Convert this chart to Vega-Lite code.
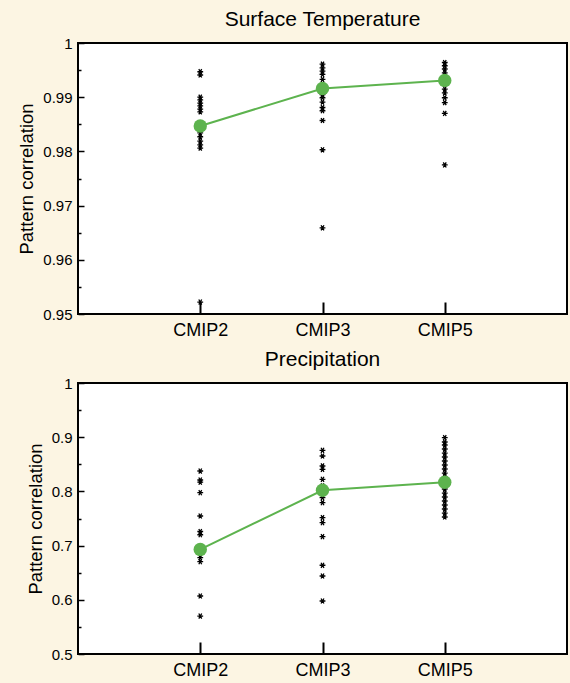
{
  "$schema": "https://vega.github.io/schema/vega-lite/v6.json",
  "background": "#FCF5E3",
  "padding": {"left": 16, "top": 8, "right": 2, "bottom": 5},
  "bounds": "flush",
  "spacing": 69,
  "datasets": {
    "st": [
      {"x": 1, "v": 0.9947}, {"x": 1, "v": 0.9941}, {"x": 1, "v": 0.9900}, {"x": 1, "v": 0.9895}, {"x": 1, "v": 0.9889},
      {"x": 1, "v": 0.9884}, {"x": 1, "v": 0.9878}, {"x": 1, "v": 0.9873}, {"x": 1, "v": 0.9841}, {"x": 1, "v": 0.9834},
      {"x": 1, "v": 0.9827}, {"x": 1, "v": 0.9819}, {"x": 1, "v": 0.9812}, {"x": 1, "v": 0.9806}, {"x": 1, "v": 0.9522},
      {"x": 2, "v": 0.9961}, {"x": 2, "v": 0.9954}, {"x": 2, "v": 0.9948}, {"x": 2, "v": 0.9942}, {"x": 2, "v": 0.9933},
      {"x": 2, "v": 0.9924}, {"x": 2, "v": 0.9911}, {"x": 2, "v": 0.9905}, {"x": 2, "v": 0.9899}, {"x": 2, "v": 0.9891},
      {"x": 2, "v": 0.9881}, {"x": 2, "v": 0.9875}, {"x": 2, "v": 0.9857}, {"x": 2, "v": 0.9803}, {"x": 2, "v": 0.9659},
      {"x": 3, "v": 0.9964}, {"x": 3, "v": 0.9958}, {"x": 3, "v": 0.9952}, {"x": 3, "v": 0.9945}, {"x": 3, "v": 0.9939},
      {"x": 3, "v": 0.9924}, {"x": 3, "v": 0.9915}, {"x": 3, "v": 0.9908}, {"x": 3, "v": 0.9899}, {"x": 3, "v": 0.9890},
      {"x": 3, "v": 0.9870}, {"x": 3, "v": 0.9775}
    ],
    "stm": [{"x": 1, "v": 0.9847}, {"x": 2, "v": 0.9916}, {"x": 3, "v": 0.9931}],
    "pr": [
      {"x": 1, "v": 0.8376}, {"x": 1, "v": 0.821}, {"x": 1, "v": 0.817}, {"x": 1, "v": 0.7976}, {"x": 1, "v": 0.7546},
      {"x": 1, "v": 0.726}, {"x": 1, "v": 0.720}, {"x": 1, "v": 0.6777}, {"x": 1, "v": 0.6703}, {"x": 1, "v": 0.607}, {"x": 1, "v": 0.570},
      {"x": 2, "v": 0.8758}, {"x": 2, "v": 0.8653}, {"x": 2, "v": 0.8469}, {"x": 2, "v": 0.8408}, {"x": 2, "v": 0.8223},
      {"x": 2, "v": 0.8100}, {"x": 2, "v": 0.7950}, {"x": 2, "v": 0.7884}, {"x": 2, "v": 0.7792}, {"x": 2, "v": 0.7515},
      {"x": 2, "v": 0.7423}, {"x": 2, "v": 0.7164}, {"x": 2, "v": 0.6637}, {"x": 2, "v": 0.6439}, {"x": 2, "v": 0.5978},
      {"x": 3, "v": 0.8991}, {"x": 3, "v": 0.8911}, {"x": 3, "v": 0.8856}, {"x": 3, "v": 0.8782}, {"x": 3, "v": 0.8708},
      {"x": 3, "v": 0.8635}, {"x": 3, "v": 0.8561}, {"x": 3, "v": 0.8487}, {"x": 3, "v": 0.8413}, {"x": 3, "v": 0.8339},
      {"x": 3, "v": 0.8266}, {"x": 3, "v": 0.8118}, {"x": 3, "v": 0.8044}, {"x": 3, "v": 0.7970}, {"x": 3, "v": 0.7897},
      {"x": 3, "v": 0.7823}, {"x": 3, "v": 0.7749}, {"x": 3, "v": 0.7675}, {"x": 3, "v": 0.7601}, {"x": 3, "v": 0.7528}
    ],
    "prm": [{"x": 1, "v": 0.693}, {"x": 2, "v": 0.802}, {"x": 3, "v": 0.817}]
  },
  "vconcat": [
    {
      "title": {"text": "Surface Temperature"},
      "width": 489,
      "height": 271,
      "encoding": {
        "x": {"field": "x", "type": "quantitative", "scale": {"domain": [0, 4]},
          "axis": {"values": [1, 2, 3], "labelExpr": "datum.value == 1 ? 'CMIP2' : datum.value == 2 ? 'CMIP3' : 'CMIP5'"}},
        "y": {"field": "v", "type": "quantitative", "scale": {"domain": [0.95, 1], "nice": false, "zero": false},
          "axis": {"title": "Pattern correlation",
            "values": [0.95, 0.955, 0.96, 0.965, 0.97, 0.975, 0.98, 0.985, 0.99, 0.995, 1],
            "labelExpr": "round(datum.value * 1000) % 10 == 0 ? format(datum.value, '~g') : ''",
            "tickSize": {"condition": {"test": "round(datum.value * 1000) % 10 == 0", "value": -6}, "value": -3}}}
      },
      "layer": [
        {"data": {"name": "st"}, "mark": {"type": "point", "shape": "M-1,0L1,0M-0.5,-0.87L0.5,0.87M-0.5,0.87L0.5,-0.87", "stroke": "black", "strokeWidth": 1.3, "size": 34, "filled": false, "opacity": 1}},
        {"data": {"name": "stm"}, "mark": {"type": "line", "color": "#5DB34E", "strokeWidth": 2}},
        {"data": {"name": "stm"}, "mark": {"type": "circle", "color": "#5DB34E", "size": 180, "opacity": 1}}
      ]
    },
    {
      "title": {"text": "Precipitation"},
      "width": 489,
      "height": 271,
      "encoding": {
        "x": {"field": "x", "type": "quantitative", "scale": {"domain": [0, 4]},
          "axis": {"values": [1, 2, 3], "labelExpr": "datum.value == 1 ? 'CMIP2' : datum.value == 2 ? 'CMIP3' : 'CMIP5'"}},
        "y": {"field": "v", "type": "quantitative", "scale": {"domain": [0.5, 1], "nice": false, "zero": false},
          "axis": {"title": "Pattern correlation",
            "values": [0.5, 0.55, 0.6, 0.65, 0.7, 0.75, 0.8, 0.85, 0.9, 0.95, 1],
            "labelExpr": "round(datum.value * 100) % 10 == 0 ? format(datum.value, '~g') : ''",
            "tickSize": {"condition": {"test": "round(datum.value * 100) % 10 == 0", "value": -6}, "value": -3}}}
      },
      "layer": [
        {"data": {"name": "pr"}, "mark": {"type": "point", "shape": "M-1,0L1,0M-0.5,-0.87L0.5,0.87M-0.5,0.87L0.5,-0.87", "stroke": "black", "strokeWidth": 1.3, "size": 34, "filled": false, "opacity": 1}},
        {"data": {"name": "prm"}, "mark": {"type": "line", "color": "#5DB34E", "strokeWidth": 2}},
        {"data": {"name": "prm"}, "mark": {"type": "circle", "color": "#5DB34E", "size": 180, "opacity": 1}}
      ]
    }
  ],
  "config": {
    "font": "Liberation Sans",
    "view": {"stroke": "black", "strokeWidth": 2, "fill": "white"},
    "title": {"fontSize": 21, "fontWeight": "normal", "color": "black", "anchor": "middle", "offset": 6},
    "axis": {"grid": false, "domain": false, "tickColor": "black", "labelColor": "black", "titleColor": "black", "labelFont": "Liberation Sans", "titleFont": "Liberation Sans"},
    "axisX": {"tickSize": -12, "tickWidth": 2, "labelFontSize": 18, "labelPadding": 19, "title": null},
    "axisY": {"tickWidth": 1.5, "labelFontSize": 15, "labelPadding": 12, "titleFontSize": 18.5, "titleFontWeight": "normal", "titlePadding": 6}
  }
}
